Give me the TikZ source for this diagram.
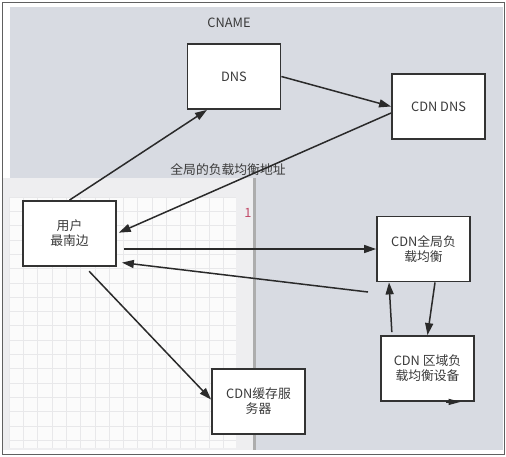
\documentclass[tikz,border=0pt]{standalone}
\usepackage{fontspec}
\setmainfont{Noto Sans CJK SC}
\usetikzlibrary{arrows.meta}
\definecolor{bggray}{HTML}{D8DBE2}
\definecolor{panelgray}{HTML}{EEEEF0}
\definecolor{gridline}{HTML}{E8E8EA}
\definecolor{boxline}{HTML}{333333}
\definecolor{arrowcol}{HTML}{2A2A2A}
\definecolor{textcol}{HTML}{3A3A3A}
\definecolor{redone}{HTML}{C24A68}
\definecolor{framecol}{HTML}{606060}
\tikzset{
  box/.style={draw=boxline, line width=1.8pt, fill=white, minimum width=93pt, minimum height=65pt,
    inner sep=0pt, align=center, text=textcol, font=\fontsize{12.8}{15}\selectfont},
  conn/.style={draw=arrowcol, line width=1.5pt, -{Triangle[length=12pt,width=8pt]}},
  lbl/.style={font=\fontsize{12.8}{15}\selectfont, text=textcol, inner sep=0pt}
}
\begin{document}
\begin{tikzpicture}[x=1pt,y=-1pt]
\useasboundingbox (0,0) rectangle (506,456);
% background
\fill[white] (0,0) rectangle (506,456);
\fill[bggray] (10,7) rectangle (503,450);
% panel
\fill[panelgray] (3,178) rectangle (253,450);
\fill[white!97!gray] (9,197) rectangle (236,448);
\foreach \x in {9,23.3,...,236} \draw[gridline, line width=0.6pt] (\x,197) -- (\x,448);
\foreach \y in {197,211.3,...,448} \draw[gridline, line width=0.6pt] (9,\y) -- (236,\y);
\fill[black!32] (253,178) rectangle (256,450);
% outer frame
\draw[framecol, line width=1pt] (2.5,2.5) rectangle (504,454.5);
% nodes
\node[box] (dns) at (234,76.5) {DNS};
\node[box] (cdndns) at (438.5,106.5) {CDN DNS};
\node[box] (user) at (69.5,233.5) {用户\\最南边};
\node[box] (cache) at (258.5,401.5) {CDN缓存服\\务器};
\node[box] (glb) at (423.5,249) {CDN全局负\\载均衡};
\node[box] (rlb) at (427.5,368.5) {CDN 区域负\\载均衡设备};
% labels
\node[lbl] (cname) at (229,23) {CNAME};
\node[lbl] (addr) at (228,170) {全局的负载均衡地址};
\node[lbl, text=redone] (one) at (248,213) {1};
% free coordinate
\coordinate (back) at (368,292);
% connectors
\draw[conn] (user.north) -- ([xshift=-27pt]dns.south);
\draw[conn] (dns.east) -- (cdndns.west);
\draw[conn, shorten >=2pt] ([yshift=-6.5pt]cdndns.west) -- (user.east);
\draw[conn, shorten <=7pt] (user.east |- glb.west) -- (glb.west);
\draw[conn, shorten >=5pt] (back) -- ([yshift=-28.5pt]user.east);
\draw[conn] ([xshift=11.5pt]glb.south) -- (rlb.north);
\draw[conn, shorten <=3pt] ([xshift=-35.5pt]rlb.north) -- ([xshift=-34.5pt]glb.south);
\draw[conn, shorten <=6pt] ([xshift=15.5pt]user.south) -- ([yshift=2pt]cache.west);
\draw[conn, -{Triangle[length=12pt,width=6pt]}] ([xshift=18pt]rlb.south) -- ([xshift=33pt]rlb.south);
\end{tikzpicture}
\end{document}
